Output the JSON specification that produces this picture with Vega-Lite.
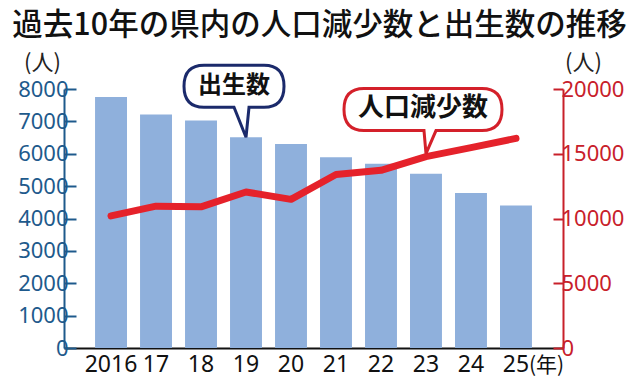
{
  "$schema": "https://vega.github.io/schema/vega-lite/v6.json",
  "width": 499,
  "height": 259,
  "autosize": {"type": "none"},
  "padding": {"left": 64, "top": 89, "right": 77, "bottom": 44},
  "background": "white",
  "title": {
    "text": "過去10年の県内の人口減少数と出生数の推移",
    "font": "Noto Sans CJK JP",
    "fontSize": 30.5,
    "fontWeight": 500,
    "color": "#111111",
    "anchor": "middle",
    "frame": "group",
    "dx": 6,
    "offset": 10
  },
  "config": {
    "view": {"stroke": null},
    "axis": {"grid": false},
    "axisLeft": {
      "domainColor": "#1e5a8c",
      "domainWidth": 2,
      "tickColor": "#1e5a8c",
      "tickWidth": 2,
      "tickSize": -12,
      "labelColor": "#1e5a8c",
      "labelFont": "Noto Sans",
      "labelFontSize": 22,
      "labelPadding": 8,
      "labelOverlap": false,
      "titleAngle": 0,
      "titleAlign": "center",
      "titleBaseline": "alphabetic",
      "titleX": -22,
      "titleY": -20,
      "titleFont": "Noto Sans CJK JP",
      "titleFontSize": 22,
      "titleFontWeight": "normal",
      "titleColor": "#222222"
    },
    "axisRight": {
      "domainColor": "#c8202a",
      "domainWidth": 2,
      "tickColor": "#c8202a",
      "tickWidth": 2,
      "tickSize": -10,
      "labelColor": "#c8202a",
      "labelFont": "Noto Sans",
      "labelFontSize": 22,
      "labelPadding": 8,
      "labelOverlap": false,
      "titleAngle": 0,
      "titleAlign": "center",
      "titleBaseline": "alphabetic",
      "titleX": 20,
      "titleY": -20,
      "titleFont": "Noto Sans CJK JP",
      "titleFontSize": 22,
      "titleFontWeight": "normal",
      "titleColor": "#222222"
    }
  },
  "datasets": {
    "main": [
      {"year": "2016", "births": 7750, "decrease": 10200},
      {"year": "17", "births": 7210, "decrease": 10950},
      {"year": "18", "births": 7030, "decrease": 10900},
      {"year": "19", "births": 6510, "decrease": 12050},
      {"year": "20", "births": 6300, "decrease": 11480},
      {"year": "21", "births": 5890, "decrease": 13400},
      {"year": "22", "births": 5690, "decrease": 13720},
      {"year": "23", "births": 5380, "decrease": 14780},
      {"year": "24", "births": 4790, "decrease": 15470},
      {"year": "25", "births": 4400, "decrease": 16190}
    ]
  },
  "data": {"name": "main"},
  "encoding": {
    "x": {
      "field": "year",
      "type": "ordinal",
      "sort": null,
      "title": null,
      "scale": {"paddingInner": 0.29, "paddingOuter": 0.69},
      "axis": {
        "domainColor": "#111111",
        "domainWidth": 2,
        "ticks": false,
        "labelAngle": 0,
        "labelColor": "#111111",
        "labelFont": "Noto Sans",
        "labelFontSize": 23,
        "labelPadding": 5
      }
    }
  },
  "layer": [
    {
      "layer": [
        {
          "mark": {"type": "bar", "color": "#8fb0dc"},
          "encoding": {
            "y": {
              "field": "births", "type": "quantitative", "title": "(人)",
              "scale": {"domain": [0, 8000], "nice": false},
              "axis": {"orient": "left", "format": "d", "values": [0, 1000, 2000, 3000, 4000, 5000, 6000, 7000, 8000]}
            }
          }
        },
        {
          "transform": [{"filter": "datum.year == '19'"}],
          "mark": {
            "type": "point",
            "shape": "M -0.42 -0.72 L 0.18 -0.72 Q 0.38 -0.72 0.38 -0.51 Q 0.38 -0.30 0.18 -0.30 L 0.03 -0.30 L 0 0 L -0.12 -0.30 L -0.42 -0.30 Q -0.62 -0.30 -0.62 -0.51 Q -0.62 -0.72 -0.42 -0.72 Z",
            "size": 40000,
            "fill": "white",
            "fillOpacity": 1,
            "stroke": "#1b2a6b",
            "strokeWidth": 3,
            "opacity": 1
          },
          "encoding": {
            "y": {
              "field": "births", "type": "quantitative", "title": "(人)",
              "scale": {"domain": [0, 8000], "nice": false},
              "axis": {"orient": "left", "format": "d", "values": [0, 1000, 2000, 3000, 4000, 5000, 6000, 7000, 8000]}
            }
          }
        },
        {
          "transform": [{"filter": "datum.year == '19'"}],
          "mark": {
            "type": "text",
            "text": "出生数",
            "font": "Noto Sans CJK JP",
            "fontWeight": "bold",
            "fontSize": 24,
            "color": "#111111",
            "align": "center",
            "baseline": "middle",
            "dx": -12,
            "dy": -51
          },
          "encoding": {
            "y": {
              "field": "births", "type": "quantitative", "title": "(人)",
              "scale": {"domain": [0, 8000], "nice": false},
              "axis": {"orient": "left", "format": "d", "values": [0, 1000, 2000, 3000, 4000, 5000, 6000, 7000, 8000]}
            }
          }
        },
        {
          "transform": [{"filter": "datum.year == '25'"}],
          "mark": {
            "type": "text",
            "text": "(年)",
            "font": "Noto Sans CJK JP",
            "fontSize": 21,
            "color": "#111111",
            "align": "left",
            "baseline": "top",
            "dx": 13,
            "dy": 7
          },
          "encoding": {
            "y": {
              "datum": 0, "type": "quantitative", "title": "(人)",
              "scale": {"domain": [0, 8000], "nice": false},
              "axis": {"orient": "left", "format": "d", "values": [0, 1000, 2000, 3000, 4000, 5000, 6000, 7000, 8000]}
            }
          }
        }
      ]
    },
    {
      "layer": [
        {
          "mark": {"type": "line", "color": "#e5222b", "strokeWidth": 7, "strokeCap": "round", "strokeJoin": "round"},
          "encoding": {
            "y": {
              "field": "decrease", "type": "quantitative", "title": "(人)",
              "scale": {"domain": [0, 20000], "nice": false},
              "axis": {"orient": "right", "format": "d", "values": [0, 5000, 10000, 15000, 20000]}
            }
          }
        },
        {
          "transform": [{"filter": "datum.year == '23'"}],
          "mark": {
            "type": "point",
            "shape": "M -0.62 -0.68 L 0.56 -0.68 Q 0.76 -0.68 0.76 -0.47 Q 0.76 -0.26 0.56 -0.26 L 0.10 -0.26 L 0 -0.03 L -0.02 -0.26 L -0.62 -0.26 Q -0.82 -0.26 -0.82 -0.47 Q -0.82 -0.68 -0.62 -0.68 Z",
            "size": 40000,
            "fill": "white",
            "fillOpacity": 1,
            "stroke": "#d4202a",
            "strokeWidth": 3,
            "opacity": 1
          },
          "encoding": {
            "y": {
              "field": "decrease", "type": "quantitative", "title": "(人)",
              "scale": {"domain": [0, 20000], "nice": false},
              "axis": {"orient": "right", "format": "d", "values": [0, 5000, 10000, 15000, 20000]}
            }
          }
        },
        {
          "transform": [{"filter": "datum.year == '23'"}],
          "mark": {
            "type": "text",
            "text": "人口減少数",
            "font": "Noto Sans CJK JP",
            "fontWeight": "bold",
            "fontSize": 26,
            "color": "#111111",
            "align": "center",
            "baseline": "middle",
            "dx": -3,
            "dy": -49
          },
          "encoding": {
            "y": {
              "field": "decrease", "type": "quantitative", "title": "(人)",
              "scale": {"domain": [0, 20000], "nice": false},
              "axis": {"orient": "right", "format": "d", "values": [0, 5000, 10000, 15000, 20000]}
            }
          }
        }
      ]
    }
  ],
  "resolve": {"scale": {"y": "independent"}, "axis": {"y": "independent"}}
}
